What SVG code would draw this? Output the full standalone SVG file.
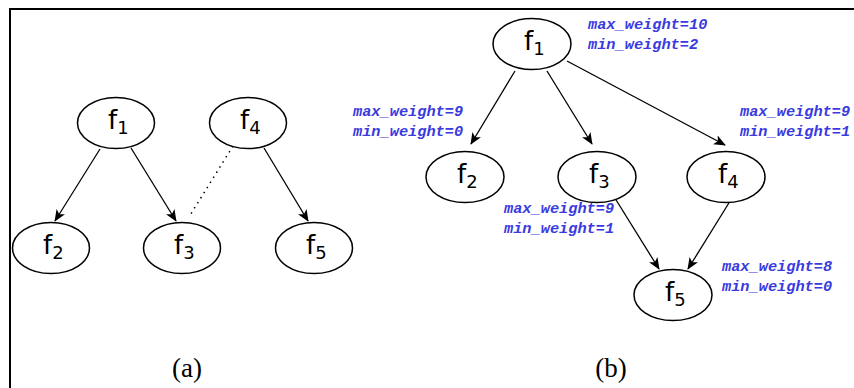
<svg xmlns="http://www.w3.org/2000/svg" width="854" height="388" viewBox="0 0 854 388">
<defs>
<style>
.node ellipse{fill:#fff;stroke:#000;stroke-width:1.5}
.nt{font-family:"DejaVu Sans",Verdana,sans-serif;font-size:26px;fill:#000}
.sub{font-size:18px}
.edge{stroke:#000;stroke-width:1.3;fill:none;marker-end:url(#ah)}
.dot{stroke:#000;stroke-width:1.5;fill:none;stroke-dasharray:1.5 4.5}
.w{font-family:"Liberation Mono","Courier New",monospace;font-size:15.3px;font-weight:bold;font-style:italic;fill:#3a3ae0}
.cap{font-family:"Liberation Serif","Times New Roman",serif;font-size:27px;fill:#000}
</style>
<marker id="ah" viewBox="0 0 12 10" refX="11" refY="5" markerWidth="12" markerHeight="10" markerUnits="userSpaceOnUse" orient="auto">
<path d="M0,0 L12,5 L0,10 L3,5 Z" fill="#000"/>
</marker>
</defs>
<rect width="854" height="388" fill="#fff"/>
<g id="border" stroke="#000" stroke-width="2" fill="none">
<line x1="10" y1="9" x2="854" y2="9"/>
<line x1="10" y1="8" x2="10" y2="388"/>
</g>
<g id="connectors">
<line class="edge" x1="100" y1="149" x2="55" y2="221"/>
<line class="edge" x1="131" y1="148" x2="176" y2="221"/>
<line class="edge" x1="264" y1="148" x2="308" y2="221"/>
<line class="dot" x1="233" y1="146" x2="189" y2="217"/>
<line class="edge" x1="515" y1="71" x2="471" y2="144"/>
<line class="edge" x1="547" y1="71" x2="592" y2="144"/>
<line class="edge" x1="567" y1="61" x2="725" y2="145"/>
<line class="edge" x1="613" y1="195" x2="659" y2="269"/>
<line class="edge" x1="732" y1="198" x2="688" y2="269"/>
</g>
<g id="a-f1" class="node"><ellipse cx="116" cy="123" rx="38.5" ry="25.5"/><text class="nt" x="108" y="129">f<tspan class="sub" dy="5">1</tspan></text></g>
<g id="a-f4" class="node"><ellipse cx="248" cy="123" rx="38.5" ry="25.5"/><text class="nt" x="240" y="129">f<tspan class="sub" dy="5">4</tspan></text></g>
<g id="a-f2" class="node"><ellipse cx="51" cy="248" rx="38.5" ry="25.5"/><text class="nt" x="43" y="254">f<tspan class="sub" dy="5">2</tspan></text></g>
<g id="a-f3" class="node"><ellipse cx="182" cy="248" rx="38.5" ry="25.5"/><text class="nt" x="174" y="254">f<tspan class="sub" dy="5">3</tspan></text></g>
<g id="a-f5" class="node"><ellipse cx="314" cy="248" rx="38.5" ry="25.5"/><text class="nt" x="306" y="254">f<tspan class="sub" dy="5">5</tspan></text></g>
<g id="b-f1" class="node"><ellipse cx="532" cy="44" rx="39" ry="25.5"/><text class="nt" x="524" y="50">f<tspan class="sub" dy="5">1</tspan></text></g>
<g id="b-f2" class="node"><ellipse cx="465" cy="177" rx="39" ry="25.5"/><text class="nt" x="457" y="183">f<tspan class="sub" dy="5">2</tspan></text></g>
<g id="b-f3" class="node"><ellipse cx="597" cy="177" rx="39" ry="25.5"/><text class="nt" x="589" y="183">f<tspan class="sub" dy="5">3</tspan></text></g>
<g id="b-f4" class="node"><ellipse cx="726" cy="177" rx="39" ry="25.5"/><text class="nt" x="718" y="183">f<tspan class="sub" dy="5">4</tspan></text></g>
<g id="b-f5" class="node"><ellipse cx="673" cy="295" rx="39" ry="25.5"/><text class="nt" x="665" y="301">f<tspan class="sub" dy="5">5</tspan></text></g>
<g id="labels">
<text class="w" x="588" y="29">max_weight=10</text>
<text class="w" x="588" y="49">min_weight=2</text>
<text class="w" x="353" y="116">max_weight=9</text>
<text class="w" x="353" y="136">min_weight=0</text>
<text class="w" x="740" y="116">max_weight=9</text>
<text class="w" x="740" y="136">min_weight=1</text>
<text class="w" x="504" y="213">max_weight=9</text>
<text class="w" x="504" y="233">min_weight=1</text>
<text class="w" x="722" y="271">max_weight=8</text>
<text class="w" x="722" y="291">min_weight=0</text>
<text class="cap" x="187" y="377" text-anchor="middle">(a)</text>
<text class="cap" x="611" y="377" text-anchor="middle">(b)</text>
</g>
</svg>
